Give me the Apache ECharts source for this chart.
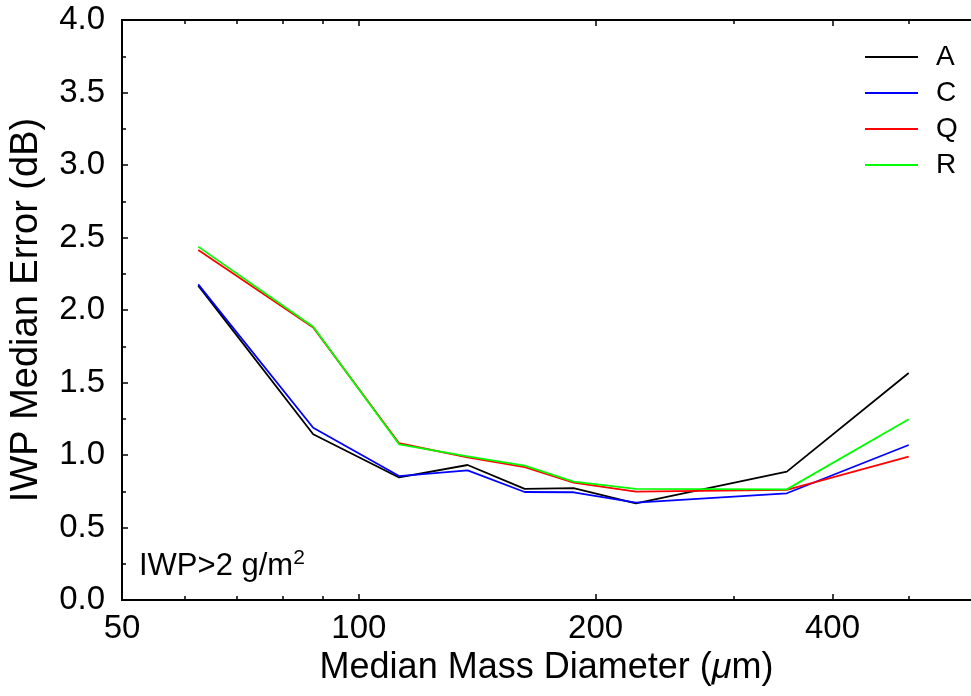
<!DOCTYPE html>
<html>
<head>
<meta charset="utf-8">
<script src="https://cdn.jsdelivr.net/npm/echarts@6/dist/echarts.min.js"></script>
<style>
html,body{margin:0;padding:0;background:#fff;}
#chart{width:971px;height:696px;}
</style>
</head>
<body>
<div id="chart"></div>
<script>
// Median mass diameter (µm) bin centres
const diameters = [62.5, 87.5, 112.5, 137.5, 162.5, 187.5, 225, 350, 500];
// IWP median error (dB) per retrieval
const seriesA = [2.168, 1.143, 0.845, 0.931, 0.766, 0.772, 0.667, 0.885, 1.566];
const seriesC = [2.177, 1.188, 0.855, 0.894, 0.745, 0.743, 0.672, 0.736, 1.069];
const seriesQ = [2.414, 1.880, 1.081, 0.983, 0.917, 0.810, 0.747, 0.759, 0.988];
const seriesR = [2.437, 1.885, 1.074, 0.990, 0.926, 0.816, 0.766, 0.763, 1.246];
const seriesNames = ['A', 'C', 'Q', 'R'];
const xMajorTicks = [50, 100, 200, 400];
const xMinorTicks = [60, 70, 80, 90, 300, 500];

const FONT = 'Liberation Sans, Arial, Helvetica, sans-serif';
const colors = ['#000000', '#0000ff', '#ff0000', '#00ff00'];
const allValues = [seriesA, seriesC, seriesQ, seriesR];

const chart = echarts.init(document.getElementById('chart'), null, {renderer: 'canvas'});

function xAxisDef(pos, major, withLabels) {
  return {
    type: 'log',
    logBase: 10,
    min: 50,
    max: 600,
    position: pos,
    gridIndex: 0,
    axisLine: {show: true, lineStyle: {color: '#000', width: 2}},
    axisTick: {
      show: true, inside: true, length: major ? 6 : 4,
      lineStyle: {color: '#000', width: 1.5},
      customValues: major ? xMajorTicks : xMinorTicks
    },
    axisLabel: withLabels ? {
      show: true, customValues: xMajorTicks, margin: 12,
      fontSize: 33, fontFamily: FONT, color: '#000',
      formatter: v => String(Math.round(v))
    } : {show: false},
    splitLine: {show: false},
    minorTick: {show: false},
    name: withLabels ? '{n|Median Mass Diameter (}{i|μ}{n|m)}' : '',
    nameLocation: 'middle',
    nameGap: 46,
    nameTextStyle: {
      rich: {
        n: {fontSize: 36, fontFamily: FONT, color: '#000'},
        i: {fontSize: 36, fontFamily: FONT, fontStyle: 'italic', color: '#000'}
      }
    }
  };
}

const option = {
  backgroundColor: '#ffffff',
  animation: false,
  grid: {left: 122, top: 20, bottom: 96, right: -9, containLabel: false},
  legend: {
    orient: 'vertical',
    left: 860,
    top: 38,
    icon: 'rect',
    itemWidth: 53,
    itemHeight: 2,
    itemGap: 8,
    data: seriesNames,
    textStyle: {fontSize: 28, lineHeight: 28, fontFamily: FONT, color: '#000', padding: [0, 0, 0, 13]}
  },
  xAxis: [
    xAxisDef('bottom', true, true),
    xAxisDef('bottom', false, false),
    xAxisDef('top', true, false),
    xAxisDef('top', false, false)
  ],
  yAxis: {
    type: 'value',
    min: 0,
    max: 4,
    interval: 0.5,
    axisLine: {show: true, lineStyle: {color: '#000', width: 2}},
    axisTick: {show: true, inside: true, length: 6, lineStyle: {color: '#000', width: 1.5}},
    minorTick: {show: true, splitNumber: 2, length: 4, lineStyle: {color: '#000', width: 1.5}},
    axisLabel: {
      margin: 17, fontSize: 33, fontFamily: FONT, color: '#000',
      formatter: v => v.toFixed(1)
    },
    splitLine: {show: false},
    name: 'IWP Median Error (dB)',
    nameLocation: 'middle',
    nameGap: 76,
    nameTextStyle: {fontSize: 38, fontFamily: FONT, color: '#000'}
  },
  graphic: [{
    type: 'text',
    left: 139,
    top: 548,
    style: {
      text: '{a|IWP>2 g/m}{s|2}',
      rich: {
        a: {fontSize: 31, fontFamily: FONT, fill: '#000', lineHeight: 36},
        s: {fontSize: 21, fontFamily: FONT, fill: '#000', lineHeight: 14, verticalAlign: 'top'}
      }
    }
  }],
  series: seriesNames.map((name, i) => ({
    name: name,
    type: 'line',
    xAxisIndex: 0,
    symbol: 'none',
    showSymbol: false,
    color: colors[i],
    lineStyle: {color: colors[i], width: 1.8},
    data: diameters.map((d, j) => [d, allValues[i][j]])
  }))
};

chart.setOption(option);
</script>
</body>
</html>
